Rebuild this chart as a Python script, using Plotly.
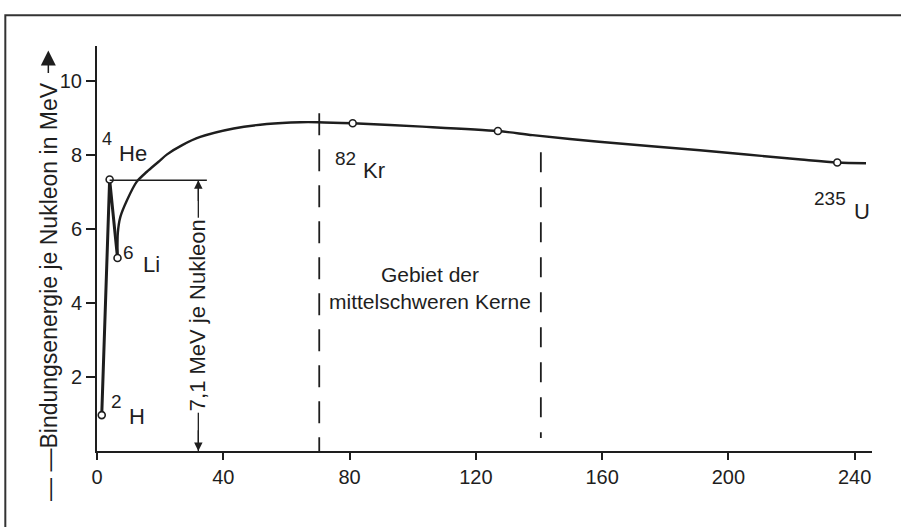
import plotly.graph_objects as go

# ---- data ----
spike_A = [1.5, 4.0, 6.5]            # 2H -> 4He -> 6Li
spike_E = [0.97, 7.34, 5.22]

curve_A = [6.5, 6.6, 7.4, 9.5, 12.5, 15.8, 19.5, 22.2, 27.0, 32.7, 43.3, 53.8,
           64.4, 70.0, 81.0, 103.0, 127.0, 138.0, 159.0, 191.0, 223.0, 234.5, 243.6]
curve_E = [5.22, 5.90, 6.33, 6.78, 7.27, 7.55, 7.82, 8.02, 8.27, 8.49, 8.72, 8.84,
           8.89, 8.89, 8.86, 8.77, 8.65, 8.54, 8.36, 8.13, 7.88, 7.80, 7.78]

marker_A = [1.5, 4.0, 6.5, 81.0, 127.0, 234.5]
marker_E = [0.97, 7.34, 5.22, 8.86, 8.65, 7.80]

x_ticks = [0, 40, 80, 120, 160, 200, 240]
y_ticks = [2, 4, 6, 8, 10]

he_level = 7.32          # horizontal reference line (4He)
region_left = 70.4       # "Gebiet der mittelschweren Kerne"
region_right = 140.6

FONT = "Liberation Sans, Arial, sans-serif"
INK = "#1e1e1e"
XT_Y = (451 - 497) / 37.0   # y position (data units) of the x-axis title row

fig = go.Figure()
fig.add_trace(go.Scatter(x=spike_A, y=spike_E, mode="lines",
                         line=dict(color=INK, width=3), hoverinfo="skip", cliponaxis=False))
fig.add_trace(go.Scatter(x=curve_A, y=curve_E, mode="lines",
                         line=dict(color=INK, width=2.4, shape="spline", smoothing=0.8),
                         hoverinfo="skip", cliponaxis=False))
fig.add_trace(go.Scatter(x=marker_A, y=marker_E, mode="markers",
                         marker=dict(symbol="circle", size=7, color="white",
                                     line=dict(color=INK, width=1.6)),
                         cliponaxis=False))

shapes = [
    dict(type="rect", xref="paper", yref="paper", x0=-0.1183, x1=1.045, y0=-0.25, y1=1.0758,
         line=dict(color="#333", width=2)),
    dict(type="line", xref="x", yref="y", x0=-2.4, x1=0, y0=0, y1=0,
         line=dict(color=INK, width=2)),
    dict(type="line", xref="x", yref="y", x0=4.0, x1=34.8, y0=he_level, y1=he_level,
         line=dict(color=INK, width=1.5)),
    dict(type="line", xref="x", yref="y", x0=32.1, x1=32.1, y0=0, y1=he_level,
         line=dict(color=INK, width=1.3)),
    dict(type="line", xref="x", yref="y", x0=region_left, x1=region_left, y0=9.13, y1=0,
         line=dict(color=INK, width=1.8, dash="22px,14px")),
    dict(type="line", xref="x", yref="y", x0=region_right, x1=region_right, y0=8.08, y1=0.35,
         line=dict(color=INK, width=1.8, dash="20px,15px")),
]

def txt(x, y, s, size, **kw):
    d = dict(x=x, y=y, xref="x", yref="y", text=s, showarrow=False,
             xanchor="center", yanchor="middle",
             font=dict(family=FONT, size=size, color=INK))
    d.update(kw)
    return d

ann = [
    txt(3.3, 8.43, "4", 18),
    txt(11.4, 8.05, "He", 22),
    txt(9.9, 5.38, "6", 19),
    txt(17.2, 5.03, "Li", 22),
    txt(6.3, 1.33, "2", 19),
    txt(12.7, 0.93, "H", 22),
    txt(78.6, 7.91, "82", 19),
    txt(87.7, 7.59, "Kr", 22),
    txt(232.2, 6.83, "235", 19),
    txt(242.2, 6.47, "U", 22),
    txt(105.4, 4.42, "Gebiet der<br>mittelschweren Kerne", 21),
    txt(32.1, 3.68, "7,1 MeV je Nukleon", 22, textangle=-90, bgcolor="white", borderpad=1),
    dict(x=32.1, y=he_level, ax=32.1, ay=he_level - 0.6, xref="x", yref="y", axref="x", ayref="y",
         text="", showarrow=True, arrowhead=2, arrowsize=1.3, arrowwidth=1.3, arrowcolor=INK),
    dict(x=32.1, y=0, ax=32.1, ay=0.6, xref="x", yref="y", axref="x", ayref="y",
         text="", showarrow=True, arrowhead=2, arrowsize=1.3, arrowwidth=1.3, arrowcolor=INK),
    txt((461 - 96.7) / 3.158, XT_Y, "Massenzahl A", 22),
    dict(x=173.6, y=XT_Y, ax=149.9, ay=XT_Y,
         xref="x", yref="y", axref="x", ayref="y", text="", showarrow=True,
         arrowhead=2, arrowsize=2.0, arrowwidth=1.5, arrowcolor=INK),
    # y-axis title and its arrow
    dict(x=-0.0628, y=0.3935, xref="paper", yref="paper", textangle=-90, showarrow=False,
         xanchor="center", yanchor="middle",
         text="— —Bindungsenergie je Nukleon in MeV",
         font=dict(family=FONT, size=23, color=INK)),
    dict(x=-0.0628, y=0.989, xref="paper", yref="paper", ax=0, ay=24, text="",
         showarrow=True, arrowhead=2, arrowsize=2.0, arrowwidth=1.5, arrowcolor=INK),
]

fig.update_layout(
    width=901, height=527,
    margin=dict(l=97, r=29, t=46, b=76),
    paper_bgcolor="white", plot_bgcolor="white",
    showlegend=False,
    shapes=shapes, annotations=ann,
    font=dict(family=FONT, color=INK),
    xaxis=dict(range=[0, 245.5], tickvals=x_ticks, ticks="outside", ticklen=7, tickwidth=1.5,
               tickcolor=INK, showline=True, linecolor=INK, linewidth=2, showgrid=False,
               zeroline=False, tickfont=dict(family=FONT, size=20, color=INK)),
    yaxis=dict(range=[0, 10.95], tickvals=y_ticks, ticks="outside", ticklen=9, tickwidth=1.5,
               tickcolor=INK, showline=True, linecolor=INK, linewidth=2, showgrid=False,
               zeroline=False, tickfont=dict(family=FONT, size=20, color=INK)),
)

fig.write_html("out.html", config={"displayModeBar": False},
               post_script="document.body.style.margin='0px';")
